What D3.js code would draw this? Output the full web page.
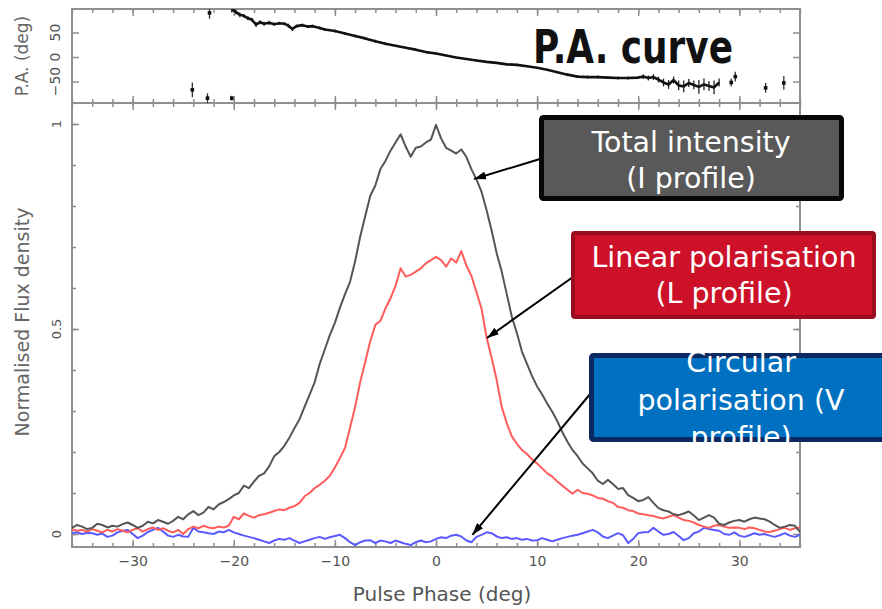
<!DOCTYPE html>
<html><head><meta charset="utf-8">
<script src="https://cdn.jsdelivr.net/npm/d3@7"></script>
<style>body{margin:0;background:#fff}svg{display:block}</style>
</head><body>
<svg id="c" width="882" height="609"></svg>
<script>
// ---------------- DATA ----------------
const phase = [-36,-35.5,-35,-34.5,-34,-33.5,-33,-32.5,-32,-31.5,
-31,-30.5,-30,-29.5,-29,-28.5,-28,-27.5,-27,-26.5,
-26,-25.5,-25,-24.5,-24,-23.5,-23,-22.5,-22,-21.5,
-21,-20.5,-20,-19.5,-19,-18.5,-18,-17.5,-17,-16.5,
-16,-15.5,-15,-14.5,-14,-13.5,-13,-12.5,-12,-11.5,
-11,-10.5,-10,-9.5,-9,-8.5,-8,-7.5,-7,-6.5,
-6,-5.5,-5,-4.5,-4,-3.5,-3,-2.5,-2,-1.5,
-1,-0.5,0,0.5,1,1.5,2,2.5,3,3.5,
4,4.5,5,5.5,6,6.5,7,7.5,8,8.5,
9,9.5,10,10.5,11,11.5,12,12.5,13,13.5,
14,14.5,15,15.5,16,16.5,17,17.5,18,18.5,
19,19.5,20,20.5,21,21.5,22,22.5,23,23.5,
24,24.5,25,25.5,26,26.5,27,27.5,28,28.5,
29,29.5,30,30.5,31,31.5,32,32.5,33,33.5,
34,34.5,35,35.5,36];

const totalI = [0.015,0.022,0.018,0.012,0.015,0.025,0.022,0.016,0.02,0.018,
0.024,0.028,0.022,0.015,0.02,0.03,0.026,0.034,0.03,0.025,
0.032,0.042,0.036,0.048,0.056,0.046,0.052,0.066,0.06,0.072,
0.078,0.085,0.094,0.1,0.118,0.112,0.128,0.142,0.148,0.165,
0.19,0.2,0.215,0.235,0.258,0.28,0.31,0.34,0.37,0.415,
0.45,0.485,0.515,0.552,0.585,0.615,0.665,0.725,0.775,0.825,
0.85,0.89,0.91,0.935,0.955,0.975,0.945,0.92,0.942,0.945,
0.955,0.962,0.998,0.965,0.942,0.935,0.928,0.938,0.92,0.89,
0.865,0.835,0.79,0.74,0.685,0.64,0.585,0.53,0.49,0.445,
0.415,0.385,0.36,0.34,0.318,0.298,0.275,0.248,0.225,0.205,
0.19,0.172,0.16,0.148,0.13,0.122,0.132,0.122,0.11,0.112,
0.095,0.088,0.08,0.083,0.09,0.076,0.063,0.058,0.055,0.048,
0.046,0.05,0.055,0.045,0.034,0.04,0.046,0.04,0.025,0.022,
0.028,0.032,0.034,0.03,0.036,0.04,0.038,0.036,0.03,0.022,
0.015,0.018,0.022,0.02,0.005];

const linearL = [0.012,0.008,0.01,0.006,0.012,0.008,0.004,0.01,0.006,0.012,
0.008,0.004,0.01,0.014,0.006,0.012,0.016,0.01,0.014,0.008,
0.004,0.01,0.0,0.012,0.018,0.014,0.02,0.016,0.014,0.018,
0.016,0.02,0.042,0.036,0.05,0.044,0.04,0.046,0.048,0.052,
0.056,0.06,0.058,0.064,0.068,0.076,0.092,0.1,0.112,0.12,
0.13,0.142,0.162,0.185,0.21,0.26,0.31,0.37,0.42,0.47,
0.51,0.52,0.55,0.575,0.605,0.648,0.628,0.632,0.64,0.648,
0.66,0.668,0.676,0.668,0.652,0.672,0.662,0.69,0.655,0.63,
0.59,0.55,0.48,0.43,0.376,0.31,0.27,0.238,0.22,0.205,
0.195,0.182,0.172,0.16,0.148,0.14,0.128,0.118,0.108,0.098,
0.108,0.1,0.098,0.094,0.088,0.086,0.08,0.076,0.066,0.064,
0.058,0.056,0.05,0.048,0.046,0.044,0.04,0.038,0.042,0.046,
0.04,0.034,0.032,0.028,0.022,0.018,0.015,0.02,0.022,0.018,
0.015,0.016,0.015,0.012,0.016,0.014,0.01,0.006,0.005,0.008,
0.012,0.015,0.01,0.014,0.016];

const circularV = [0.002,0.004,0.0,0.003,0.002,-0.002,0.001,-0.007,-0.004,0.004,
0.008,0.01,0.0,-0.01,-0.004,0.005,0.01,0.015,0.006,-0.004,
-0.007,-0.002,-0.006,-0.007,0.015,0.006,0.004,0.002,0.0,0.006,
0.004,0.01,0.004,0.0,-0.004,-0.007,-0.01,-0.014,-0.018,-0.022,
-0.016,-0.012,-0.014,-0.01,-0.016,-0.022,-0.018,-0.014,-0.01,-0.007,
-0.012,-0.008,-0.005,-0.002,-0.01,-0.02,-0.027,-0.02,-0.016,-0.015,
-0.022,-0.016,-0.018,-0.022,-0.016,-0.02,-0.024,-0.027,-0.02,-0.016,
-0.02,-0.018,-0.012,-0.008,-0.01,-0.004,-0.002,-0.006,-0.016,-0.02,
-0.007,-0.002,0.004,0.002,-0.006,-0.01,-0.008,-0.012,-0.01,-0.014,
-0.012,-0.016,-0.015,-0.01,-0.014,-0.018,-0.014,-0.01,-0.007,-0.004,
-0.002,0.002,0.006,0.01,0.004,-0.006,-0.01,-0.004,0.002,-0.003,
-0.022,-0.012,0.002,0.004,0.005,0.015,0.006,-0.002,0.0,0.005,
-0.005,-0.015,-0.01,0.002,0.006,0.015,0.012,0.01,0.008,0.0,
-0.002,0.004,-0.004,-0.007,-0.003,0.002,-0.002,0.0,-0.004,-0.007,
-0.003,0.002,-0.004,-0.007,-0.002];

// Position angle curve (deg)
const paPhase = [-20.2,-19.8,-19.4,-19.0,-18.6,-18.2,-17.8,-17.4,-17.0,-16.5,-16.0,-15.5,-15.0,-14.6,-14.2,-13.8,-13.2,-12.7,-12.2,-11.5,-11.0,
-10,-9,-8,-7,-6,-5,-4,-3,-2,-1,0,1,2,3,4,5,6,7,8,9,10,11,12,13,14,15,16,17,18,19,20,
20.5,21,21.5,22,22.5,23,23.5,24,24.5,25,25.5,26,26.5,27,27.5,28];
const paValue = [97,92,86,84,79,76,66,71,68,70,67,69,68,64,57,63,65,62,63,59,56,
53,48,43,38,32,27,23,19,15,10,7,3,-1,-4,-7,-10,-12,-15,-16,-19,-22,-26,-31,-36,-40,-41,-41,-42,-43,-43,-42,
-40,-43,-41,-46,-52,-56,-47,-58,-60,-53,-57,-61,-56,-59,-62,-52];
const paError = [6,5,5,4,4,4,5,4,4,4,3,3,3,4,4,3,3,3,3,3,3,
3,3,3,3,3,3,2,2,2,2,2,2,2,2,2,2,2,2,2,2,2,2,2,3,3,3,3,3,3,3,3,
5,5,6,6,8,9,7,10,12,8,9,14,12,10,14,8];
const paPointPhase = [-24.1,-22.6,-22.4,-20.2,29.2,29.6,32.6,34.4];
const paPointValue = [-67,-84,90,-84,-52,-40,-63,-53];
const paPointError = [15,10,12,5,8,10,10,14];

// Ticks
const xMajorTicks = [-30,-20,-10,0,10,20,30];
const xMinorTicks = [-36,-34,-32,-30,-28,-26,-24,-22,-20,-18,-16,-14,-12,-10,-8,-6,-4,-2,0,2,4,6,8,10,12,14,16,18,20,22,24,26,28,30,32,34,36];
const yMajorTicks = [0,0.5,1];
const yMinorTicks = [0,0.1,0.2,0.3,0.4,0.5,0.6,0.7,0.8,0.9,1];
const paTicks = [-50,0,50];

// Annotations
const boxes = [
  {lines:["Total intensity","(I profile)"], fill:"#595959", stroke:"#080808"},
  {lines:["Linear polarisation","(L profile)"], fill:"#cc1128", stroke:"#9a0d1f"},
  {lines:["Circular","polarisation (V","profile)"], fill:"#0070c0", stroke:"#0b2a63"}
];
const arrowTargetPhase = [3.76, 5.04, 3.6];
const arrowTargetValue = [0.866, 0.478, -0.002];

// ---------------- LAYOUT ----------------
const L = 72, R = 800;
const paTop = 9, paBottom = 103, mainTop = 103, mainBottom = 547;
const boxLayout = [
  {x:539, y:115, w:305, h:86, sw:5, cx:691, base:[152,188], ax:540, ay:159},
  {x:571, y:231, w:305, h:88, sw:4, cx:724, base:[267,303], ax:573, ay:277},
  {x:589, y:353, w:303, h:89, sw:5, cx:741, base:[372,410,447], ax:591, ay:393}
];
const axisColor = "#8f8f8f";
const tickFont = "DejaVu Sans";

const svg = d3.select("#c");
const x = d3.scaleLinear().domain([-36,36]).range([L,R]);
const y = d3.scaleLinear().domain([0,1]).range([534,124]);
const yPA = d3.scaleLinear().domain([-50,50]).range([81.5,32.5]);

const defs = svg.append("defs");
defs.append("clipPath").attr("id","clipMain").append("rect")
  .attr("x",L).attr("y",mainTop).attr("width",R-L).attr("height",mainBottom-mainTop);
defs.append("clipPath").attr("id","clipPA").append("rect")
  .attr("x",L).attr("y",paTop).attr("width",R-L).attr("height",paBottom-paTop);
defs.append("marker").attr("id","ah").attr("viewBox","0 0 12 8")
  .attr("refX",12).attr("refY",4).attr("markerWidth",12).attr("markerHeight",8)
  .attr("markerUnits","userSpaceOnUse").attr("orient","auto")
  .append("path").attr("d","M0,0L12,4L0,8Z").attr("fill","#000");

function styleAxis(g){
  g.select(".domain").remove();
  g.selectAll(".tick line").attr("stroke",axisColor).attr("stroke-width",1.5);
  g.attr("font-family",tickFont).attr("font-size",14);
  g.selectAll(".tick text").attr("fill","#555");
}
function addAxis(axis, tx, ty){
  svg.append("g").attr("transform",`translate(${tx},${ty})`).call(axis).call(styleAxis);
}

// Main panel axes
addAxis(d3.axisBottom(x).tickValues(xMinorTicks).tickSize(-4).tickFormat(""),0,mainBottom);
addAxis(d3.axisBottom(x).tickValues(xMajorTicks).tickSize(-7).tickPadding(9),0,mainBottom);
addAxis(d3.axisTop(x).tickValues(xMinorTicks).tickSize(-4).tickFormat(""),0,mainTop);
addAxis(d3.axisTop(x).tickValues(xMajorTicks).tickSize(-7).tickFormat(""),0,mainTop);
addAxis(d3.axisLeft(y).tickValues(yMinorTicks).tickSize(-4).tickFormat(""),L,0);
addAxis(d3.axisLeft(y).tickValues(yMajorTicks).tickSize(-7).tickFormat(""),L,0);
addAxis(d3.axisRight(y).tickValues(yMinorTicks).tickSize(-4).tickFormat(""),R,0);
addAxis(d3.axisRight(y).tickValues(yMajorTicks).tickSize(-7).tickFormat(""),R,0);

// PA panel axes
addAxis(d3.axisBottom(x).tickValues(xMinorTicks).tickSize(-4).tickFormat(""),0,paBottom);
addAxis(d3.axisBottom(x).tickValues(xMajorTicks).tickSize(-7).tickFormat(""),0,paBottom);
addAxis(d3.axisTop(x).tickValues(xMinorTicks).tickSize(-4).tickFormat(""),0,paTop);
addAxis(d3.axisTop(x).tickValues(xMajorTicks).tickSize(-7).tickFormat(""),0,paTop);
addAxis(d3.axisLeft(yPA).tickValues(paTicks).tickSize(-7).tickFormat(""),L,0);
addAxis(d3.axisRight(yPA).tickValues(paTicks).tickSize(-7).tickFormat(""),R,0);

// Rotated y tick labels
const fmtY = d3.format("");
svg.append("g").selectAll("text").data(yMajorTicks).join("text")
  .attr("transform",d=>`translate(56,${y(d)}) rotate(-90)`)
  .attr("text-anchor","middle").attr("dy","0.36em")
  .attr("font-family",tickFont).attr("font-size",13).attr("fill","#555")
  .text(d=>d===0.5?"0.5":String(d));
svg.append("g").selectAll("text").data(paTicks).join("text")
  .attr("transform",d=>`translate(55,${yPA(d)}) rotate(-90)`)
  .attr("text-anchor","middle").attr("dy","0.36em")
  .attr("font-family",tickFont).attr("font-size",14).attr("fill","#555")
  .text(d=>d3.format("")(d));

// Frames
svg.append("rect").attr("x",L).attr("y",paTop).attr("width",R-L).attr("height",paBottom-paTop)
  .attr("fill","none").attr("stroke",axisColor).attr("stroke-width",2);
svg.append("rect").attr("x",L).attr("y",mainTop).attr("width",R-L).attr("height",mainBottom-mainTop)
  .attr("fill","none").attr("stroke",axisColor).attr("stroke-width",2);

// Axis titles
svg.append("text").attr("x",442).attr("y",601).attr("text-anchor","middle")
  .attr("font-family",tickFont).attr("font-size",20).attr("fill","#555").text("Pulse Phase (deg)");
svg.append("text").attr("transform","translate(29,322) rotate(-90)").attr("text-anchor","middle")
  .attr("font-family",tickFont).attr("font-size",19).attr("fill","#666").text("Normalised Flux density");
svg.append("text").attr("transform","translate(28,56) rotate(-90)").attr("text-anchor","middle")
  .attr("font-family",tickFont).attr("font-size",17).attr("fill","#666").text("P.A. (deg)");

// Profiles
const series = [
  {vals:circularV, color:"#5a5aff"},
  {vals:linearL, color:"#ff5c5c"},
  {vals:totalI, color:"#555555"}
];
const gMain = svg.append("g").attr("clip-path","url(#clipMain)");
series.forEach(s=>{
  const line = d3.line().x((d,i)=>x(phase[i])).y(d=>y(d));
  gMain.append("path").datum(s.vals).attr("d",line)
    .attr("fill","none").attr("stroke",s.color).attr("stroke-width",2).attr("stroke-linejoin","round");
});

// PA curve
const gPA = svg.append("g").attr("clip-path","url(#clipPA)");
gPA.append("g").selectAll("line").data(paValue).join("line")
  .attr("x1",(d,i)=>x(paPhase[i])).attr("x2",(d,i)=>x(paPhase[i]))
  .attr("y1",(d,i)=>yPA(d-paError[i])).attr("y2",(d,i)=>yPA(d+paError[i]))
  .attr("stroke","#222").attr("stroke-width",1.3);
gPA.append("path").datum(paValue)
  .attr("d",d3.line().x((d,i)=>x(paPhase[i])).y(d=>yPA(d)))
  .attr("fill","none").attr("stroke","#111").attr("stroke-width",2.6).attr("stroke-linejoin","round");
gPA.append("g").selectAll("line").data(paPointValue).join("line")
  .attr("x1",(d,i)=>x(paPointPhase[i])).attr("x2",(d,i)=>x(paPointPhase[i]))
  .attr("y1",(d,i)=>yPA(d-paPointError[i])).attr("y2",(d,i)=>yPA(d+paPointError[i]))
  .attr("stroke","#333").attr("stroke-width",1.3);
gPA.append("g").selectAll("rect").data(paPointValue).join("rect")
  .attr("x",(d,i)=>x(paPointPhase[i])-1.8).attr("y",d=>yPA(d)-1.8)
  .attr("width",3.6).attr("height",3.6).attr("fill","#111");

svg.append("text").attr("x",533).attr("y",63)
  .attr("font-family","DejaVu Sans").attr("font-weight","bold").attr("font-size",47)
  .attr("textLength",200).attr("lengthAdjust","spacingAndGlyphs")
  .attr("fill","#111").text("P.A. curve");

// Arrows
boxLayout.forEach((b,i)=>{
  svg.append("line").attr("x1",b.ax).attr("y1",b.ay)
    .attr("x2",x(arrowTargetPhase[i])).attr("y2",y(arrowTargetValue[i]))
    .attr("stroke","#000").attr("stroke-width",2).attr("marker-end","url(#ah)");
});

// Boxes
boxes.forEach((bx,i)=>{
  const b = boxLayout[i];
  svg.append("rect").attr("x",b.x+b.sw/2).attr("y",b.y+b.sw/2)
    .attr("width",b.w-b.sw).attr("height",b.h-b.sw).attr("rx",2)
    .attr("fill",bx.fill).attr("stroke",bx.stroke).attr("stroke-width",b.sw);
});
boxes.forEach((bx,i)=>{
  const b = boxLayout[i];
  bx.lines.forEach((t,j)=>{
    svg.append("text").attr("x",b.cx).attr("y",b.base[j]).attr("text-anchor","middle")
      .attr("font-family","DejaVu Sans").attr("font-size",28.5).attr("fill","#fff").text(t);
  });
});
</script>
</body></html>
